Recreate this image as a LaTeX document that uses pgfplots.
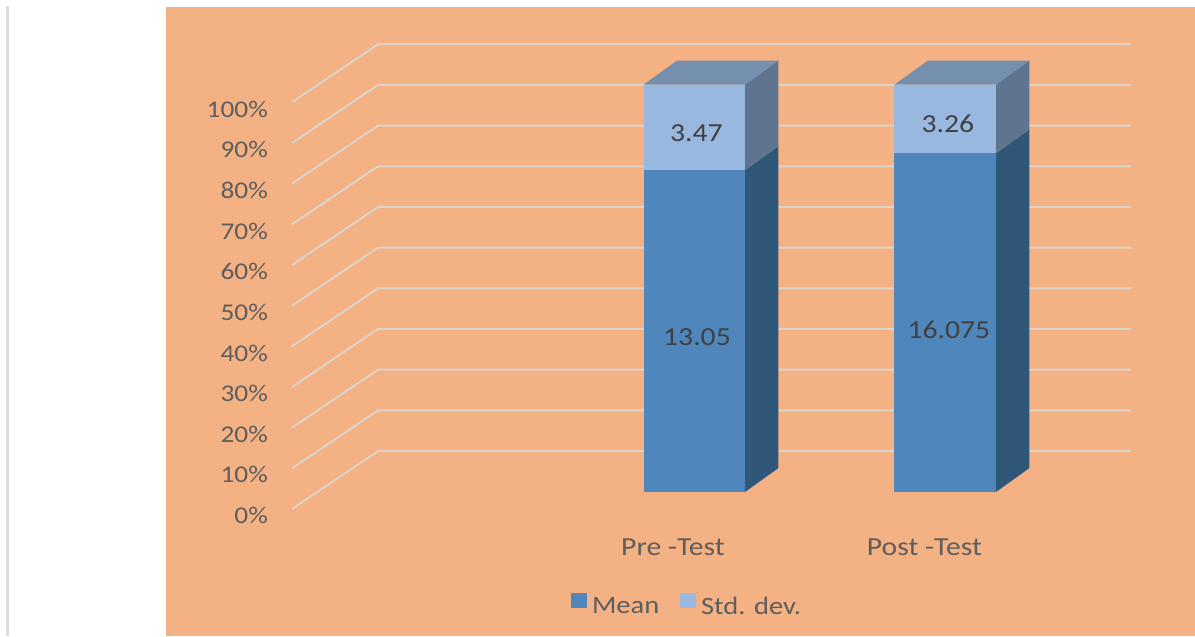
\documentclass[border=0pt]{standalone}
\usepackage{fontspec}
\setmainfont[FakeStretch=1.14]{Carlito}
\usepackage{pgfplots}
\pgfplotsset{compat=1.18}
\definecolor{panel}{HTML}{F4B183}
\definecolor{wallgrid}{HTML}{DDD3C8}
\definecolor{meanfront}{HTML}{4F86BC}
\definecolor{meanside}{HTML}{2F5777}
\definecolor{stdfront}{HTML}{98B8E0}
\definecolor{stdside}{HTML}{5F758F}
\definecolor{stdtop}{HTML}{7590AE}
\definecolor{strip}{HTML}{DCDCDC}
\definecolor{labelgray}{HTML}{5E5E5E}
\definecolor{valuegray}{HTML}{404040}
\newcommand{\chartfont}{\fontsize{25}{28}\selectfont}
\newcommand{\yfont}{\fontsize{24}{28}\selectfont}
\newcommand{\xfont}{\fontsize{26}{28}\selectfont}
\newcommand{\valuefont}{\fontsize{26}{28}\selectfont}
\begin{document}
\begin{tikzpicture}
\begin{axis}[
  scale only axis, width=1195pt, height=636pt,
  xmin=0, xmax=1195, ymin=-35.34, ymax=120.74,
  axis on top,
  axis line style={draw=none}, major tick length=0pt,
  ytick={-5.75,4.22,14.19,24.16,34.13,44.1,54.07,64.04,74.01,83.98,93.95},
  yticklabels={0\%,10\%,20\%,30\%,40\%,50\%,60\%,70\%,80\%,90\%,100\%},
  yticklabel style={anchor=east, xshift=268pt, font=\yfont, text=labelgray},
  xtick={673,924.5},
  xticklabels={Pre -Test,Post -Test},
  xticklabel style={anchor=center, yshift=89pt, font=\xfont, text=labelgray},
  tick label style={inner sep=0pt},
  legend columns=2,
  legend style={at={(axis cs:571,-27.85)}, anchor=west, draw=none, fill=none, font=\chartfont, text=labelgray,
    inner sep=0pt, /tikz/every even column/.append style={column sep=19pt}},
  legend image code/.code={\fill[#1] (0pt,-1pt) rectangle (14.5pt,13pt); \path (18.5pt,0pt);},
]
\addlegendimage{meanfront}\addlegendentry{Mean}
\addlegendimage{stdfront}\addlegendentry{Std. dev.}

% page strip and chart panel
\addplot[forget plot, fill=strip, draw=none] coordinates {(5.5,-35.34)(8.5,-35.34)(8.5,119.2)(5.5,119.2)} -- cycle;
\addplot[forget plot, fill=panel, draw=none] coordinates {(166,-35.34)(1195,-35.34)(1195,119.14)(166,119.14)} -- cycle;

% gridlines folding over the side wall onto the back wall
\pgfplotsinvokeforeach{0,...,10}{
  \pgfmathsetmacro{\frontv}{-4.18+9.985*#1}
  \pgfmathsetmacro{\backv}{10.06+9.985*#1}
  \addplot[forget plot, draw=wallgrid, line width=2pt] coordinates {(292,\frontv)(378,\backv)(1131,\backv)};
}

% Pre -Test column: Mean 13.05, Std. dev. 3.47 -> 79.00 % and 100 %
\addplot[forget plot, fill=meanside, draw=none] coordinates {(745,0)(778.5,5.89)(778.5,84.89)(745,79)} -- cycle;
\addplot[forget plot, fill=stdside, draw=none] coordinates {(745,79)(778.5,84.89)(778.5,105.89)(745,100)} -- cycle;
\addplot[forget plot, fill=stdtop, draw=none] coordinates {(643.5,100)(745,100)(778.5,105.89)(677,105.89)} -- cycle;
\addplot[forget plot, fill=meanfront, draw=none] coordinates {(643.5,0)(745,0)(745,79)(643.5,79)} -- cycle;
\addplot[forget plot, fill=stdfront, draw=none] coordinates {(643.5,79)(745,79)(745,100)(643.5,100)} -- cycle;

% Post -Test column: Mean 16.075, Std. dev. 3.26 -> 83.14 % and 100 %
\addplot[forget plot, fill=meanside, draw=none] coordinates {(996,0)(1029.5,5.89)(1029.5,89.03)(996,83.14)} -- cycle;
\addplot[forget plot, fill=stdside, draw=none] coordinates {(996,83.14)(1029.5,89.03)(1029.5,105.89)(996,100)} -- cycle;
\addplot[forget plot, fill=stdtop, draw=none] coordinates {(894.5,100)(996,100)(1029.5,105.89)(928,105.89)} -- cycle;
\addplot[forget plot, fill=meanfront, draw=none] coordinates {(894.5,0)(996,0)(996,83.14)(894.5,83.14)} -- cycle;
\addplot[forget plot, fill=stdfront, draw=none] coordinates {(894.5,83.14)(996,83.14)(996,100)(894.5,100)} -- cycle;

% value labels
\node[font=\valuefont, text=valuegray] at (axis cs:697,38.04) {13.05};
\node[font=\valuefont, text=valuegray] at (axis cs:949,39.75) {16.075};
\node[font=\valuefont, text=valuegray] at (axis cs:696.5,88.1) {3.47};
\node[font=\valuefont, text=valuegray] at (axis cs:948,90.3) {3.26};
\end{axis}
\end{tikzpicture}
\end{document}
